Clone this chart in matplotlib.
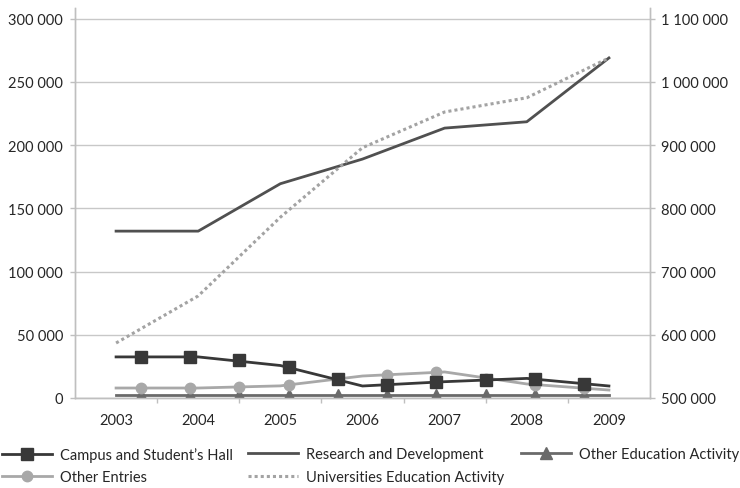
"""Higher education expenditure by activity, 2003-2009."""

import numpy as np
import matplotlib
matplotlib.use("Agg")
import matplotlib.pyplot as plt
from matplotlib.ticker import FuncFormatter, FixedLocator

# Data
years = ['2003', '2004', '2005', '2006', '2007', '2008', '2009']

campus = [32500, 32500, 25700, 9500, 12900, 15500, 9500]
research = [132000, 132000, 169500, 189000, 213500, 218500, 269000]
other_edu = [2000, 2000, 2000, 2000, 2000, 2000, 2000]
other_entries = [7900, 7900, 9600, 17400, 20600, 11100, 6300]
universities = [587000, 661500, 786000, 896000, 952500, 975000, 1038000]  # right axis

# marker symbols sit between the years in the original
campus_marks = [32500, 32500, 30100, 24500, 15000, 10300, 12700, 14200, 15000, 11100]
other_edu_marks = [2000, 2000, 2000, 2000, 2000, 2000, 2000, 2000, 2000, 2000]
other_entries_marks = [7900, 7900, 8700, 10300, 15000, 18200, 20600, 15000, 10300, 7900]


def space_thousands(v, pos=None):
    return f"{int(round(v)):,}".replace(",", " ")


def main():
    plt.rcParams['font.family'] = ['Lato', 'DejaVu Sans']
    plt.rcParams['font.size'] = 10.5
    plt.rcParams['text.color'] = '#262626'

    fig = plt.figure(figsize=(7.4, 4.89), dpi=100)
    ax = fig.add_axes([75 / 740, 90 / 489, 575 / 740, 390 / 489])
    ax2 = ax.twinx()

    x = np.arange(len(years))
    mark_x = np.arange(10) * 0.6 + 0.3

    grid_c = '#c8c8c8'
    axis_c = '#bfbfbf'

    c_campus = '#383838'
    c_research = '#505050'
    c_other_edu = '#6a6a6a'
    c_entries = '#a8a8a8'
    c_univ = '#a3a3a3'

    l_edu, = ax.plot(x, other_edu, color=c_other_edu, lw=2.0, zorder=3)
    m_edu, = ax.plot(mark_x, other_edu_marks, ls='none', marker='^', ms=8,
                     color=c_other_edu, zorder=4)
    l_ent, = ax.plot(x, other_entries, color=c_entries, lw=2.0, zorder=5)
    m_ent, = ax.plot(mark_x, other_entries_marks, ls='none', marker='o', ms=7.5,
                     color=c_entries, zorder=6)
    l_cam, = ax.plot(x, campus, color=c_campus, lw=2.0, zorder=7)
    m_cam, = ax.plot(mark_x, campus_marks, ls='none', marker='s', ms=8,
                     color=c_campus, zorder=8)
    l_res, = ax.plot(x, research, color=c_research, lw=2.0, zorder=9)

    l_univ, = ax2.plot(x, universities, color=c_univ, lw=2.2,
                       ls=(0, (1, 1)), dash_capstyle='butt')

    # axes
    ax.set_xlim(-0.5, 6.5)
    ax.set_ylim(0, 308500)
    ax2.set_ylim(500000, 1117000)

    ax.set_yticks(np.arange(0, 300001, 50000))
    ax2.set_yticks(np.arange(500000, 1100001, 100000))
    ax.yaxis.set_major_formatter(FuncFormatter(space_thousands))
    ax2.yaxis.set_major_formatter(FuncFormatter(space_thousands))

    ax.set_xticks(x)
    ax.set_xticklabels(years)
    ax.xaxis.set_minor_locator(FixedLocator(np.arange(0.5, 6, 1.0)))

    ax.grid(axis='y', color=grid_c, lw=1.0)
    ax.set_axisbelow(True)

    for a in (ax, ax2):
        a.spines['top'].set_visible(False)
        for side in ('left', 'right', 'bottom'):
            a.spines[side].set_color(axis_c)
            a.spines[side].set_linewidth(1.0)

    ax.tick_params(axis='y', length=3.6, width=1, color=axis_c, pad=5,
                   labelsize=10.5, labelcolor='#262626')
    ax2.tick_params(axis='y', length=3.6, width=1, color=axis_c, pad=4,
                    labelsize=10.5, labelcolor='#262626')
    ax.tick_params(axis='x', which='major', length=0, pad=11,
                   labelsize=10.5, labelcolor='#262626')
    ax.tick_params(axis='x', which='minor', length=3.6, width=1, color=axis_c)

    # legend, three columns placed like the original
    common = dict(frameon=False, loc='center left', borderpad=0,
                  borderaxespad=0, handlelength=3.4, handletextpad=0.55,
                  labelspacing=0.58, fontsize=10.5, numpoints=1)
    fig.legend([(l_cam, m_cam), (l_ent, m_ent)],
               ['Campus and Student’s Hall', 'Other Entries'],
               bbox_to_anchor=(2 / 740, 0.046), **common)
    fig.legend([l_res, l_univ],
               ['Research and Development', 'Universities Education Activity'],
               bbox_to_anchor=(248 / 740, 0.046), **common)
    fig.legend([(l_edu, m_edu)], ['Other Education Activity'],
               bbox_to_anchor=(521 / 740, 0.0695), **common)

    fig.savefig('out.png', dpi=100)


if __name__ == "__main__":
    main()
